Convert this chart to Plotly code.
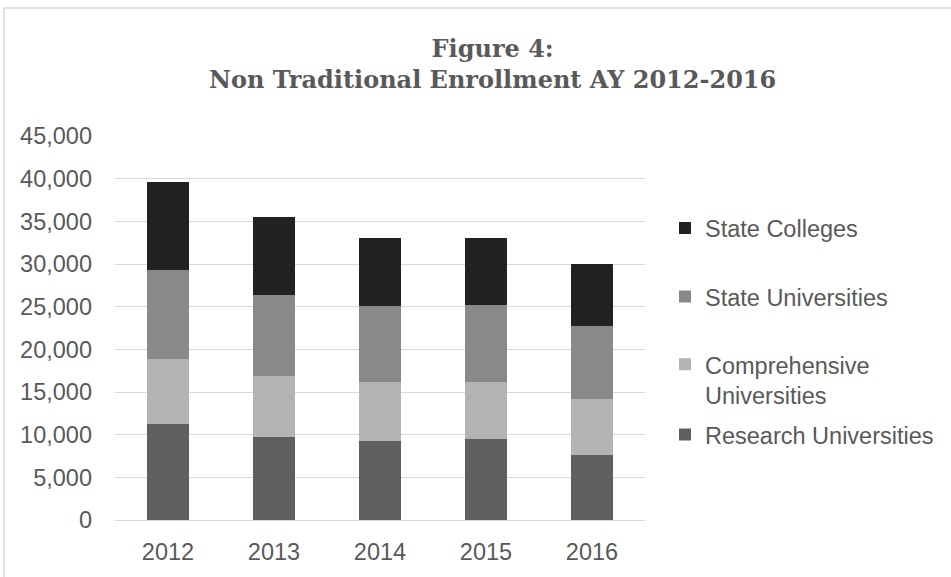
import plotly.graph_objects as go

years = ["2012", "2013", "2014", "2015", "2016"]
research = [11270, 9710, 9210, 9450, 7590]
comprehensive = [7630, 7190, 6940, 6750, 6610]
state_univ = [10400, 9500, 8950, 9000, 8570]
state_col = [10300, 9100, 8000, 7900, 7200]

series = [
    ("Research Universities", research, "#5f5f5f", "legend4"),
    ("Comprehensive<br>Universities", comprehensive, "#b3b3b3", "legend3"),
    ("State Universities", state_univ, "#898989", "legend2"),
    ("State Colleges", state_col, "#222222", "legend"),
]

TXT = "#595959"
FONT = "Liberation Sans, Arial, sans-serif"
FS = 23.5

fig = go.Figure()
for name, vals, col, lg in series:
    fig.add_trace(go.Bar(x=years, y=vals, name=name, marker=dict(color=col, line=dict(width=0)),
                         legend=lg, showlegend=True))

W, H = 951, 577
L, R, T, B = 115, 306, 136, 54
ph = H - T - B
pw = W - L - R

def py(p):
    return (H - B - p) / ph

def px(p):
    return (p - L) / pw

legend_common = dict(font=dict(family=FONT, size=FS, color=TXT), bgcolor="rgba(0,0,0,0)",
                     xanchor="left", yanchor="middle", x=px(665), valign="top",
                     borderwidth=0, visible=True)

fig.update_layout(
    width=W, height=H,
    margin=dict(l=L, r=R, t=T, b=B, pad=0),
    paper_bgcolor="white", plot_bgcolor="white",
    showlegend=True,
    barmode="stack", bargap=0.604,
    title=dict(text="<b>Figure 4:<br>Non Traditional Enrollment AY 2012-2016</b>",
               font=dict(family="DejaVu Serif, serif", size=24, color=TXT),
               x=0.518, xanchor="center", xref="container",
               y=1 - 57 / H, yanchor="middle", yref="container", automargin=False),
    xaxis=dict(showgrid=False, showline=False, ticks="", zeroline=False,
               tickfont=dict(family=FONT, size=FS, color=TXT), ticklabelstandoff=15),
    yaxis=dict(range=[0, 45000], dtick=5000, tickformat=",d", showgrid=True,
               gridcolor="#d9d9d9", gridwidth=1.3, zeroline=True, zerolinecolor="#d9d9d9",
               zerolinewidth=1.3, showline=False, ticks="",
               tickfont=dict(family=FONT, size=FS, color=TXT), ticklabelstandoff=22),
    legend=dict(**legend_common, y=py(229)),
    legend2=dict(**legend_common, y=py(298)),
    legend3=dict(**legend_common, y=py(382)),
    legend4=dict(**legend_common, y=py(437)),
    shapes=[dict(type="rect", xref="paper", yref="paper", x0=px(4), x1=px(1200),
                 y0=py(800), y1=py(7), line=dict(color="#d9d9d9", width=1.5),
                 fillcolor="rgba(0,0,0,0)", layer="below")],
)

fig.write_html("out.html", config={"displayModeBar": False},
               post_script="document.body.style.margin='0';document.body.style.overflow='hidden';")
